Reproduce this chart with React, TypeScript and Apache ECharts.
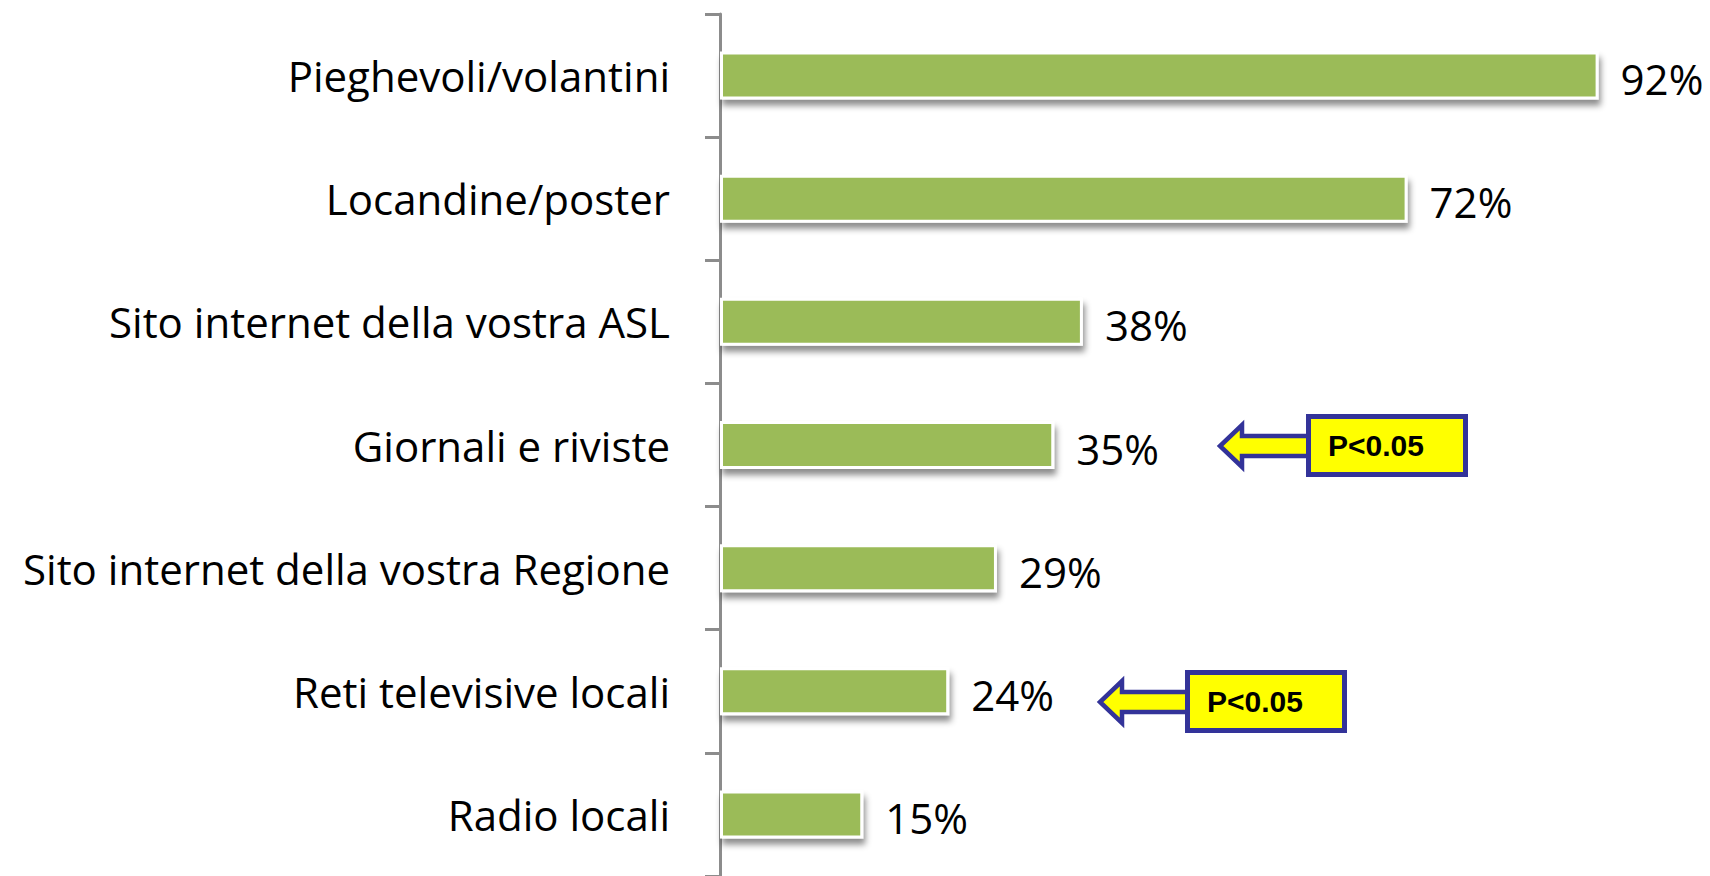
import React, { useEffect, useRef } from "react";
import * as echarts from "echarts";

const categories = [
  "Pieghevoli/volantini",
  "Locandine/poster",
  "Sito internet della vostra ASL",
  "Giornali e riviste",
  "Sito internet della vostra Regione",
  "Reti televisive locali",
  "Radio locali",
];
const values = [92, 72, 38, 35, 29, 24, 15];
const annotationText = "P<0.05";

const NAVY = "#333399";
const YELLOW = "#FFFF00";

function callout(tipX: number, tipY: number, boxLeft: number, boxCy: number) {
  const boxW = 162;
  const boxH = 63;
  const bw = 5;
  const headBase = tipX + 22;
  return [
    {
      type: "polygon",
      shape: {
        points: [
          [boxLeft + 4, tipY - 10],
          [headBase, tipY - 10],
          [headBase, tipY - 21],
          [tipX, tipY],
          [headBase, tipY + 21],
          [headBase, tipY + 10],
          [boxLeft + 4, tipY + 10],
        ],
      },
      style: { fill: YELLOW, stroke: NAVY, lineWidth: 4.5, lineJoin: "miter" },
      z: 100,
    },
    {
      type: "rect",
      shape: {
        x: boxLeft + bw / 2,
        y: boxCy - boxH / 2 + bw / 2,
        width: boxW - bw,
        height: boxH - bw,
      },
      style: { fill: YELLOW, stroke: NAVY, lineWidth: bw },
      z: 101,
    },
    {
      type: "text",
      x: boxLeft + 22,
      y: boxCy,
      style: {
        text: annotationText,
        fontFamily: "Liberation Sans, Arial, sans-serif",
        fontWeight: "bold",
        fontSize: 30,
        fill: "#000",
        verticalAlign: "middle",
        align: "left",
      },
      z: 102,
    },
  ];
}

export default function App() {
  const ref = useRef<HTMLDivElement>(null);
  useEffect(() => {
    document.body.style.margin = "0";
    const chart = echarts.init(ref.current!, null, { renderer: "svg" });
    chart.setOption({
      animation: false,
      backgroundColor: "#fff",
      grid: { left: 720, right: 35, top: 14, bottom: 0 },
      xAxis: { type: "value", min: 0, max: 100, show: false },
      yAxis: {
        type: "category",
        data: categories,
        inverse: true,
        axisLine: { show: true, lineStyle: { color: "#8c8c8c", width: 3 } },
        axisTick: { show: true, length: 15, lineStyle: { color: "#8c8c8c", width: 3 } },
        axisLabel: {
          fontFamily: "Open Sans",
          fontSize: 42,
          color: "#000",
          margin: 50,
        },
        splitLine: { show: false },
      },
      series: [
        {
          type: "bar",
          data: values,
          barWidth: 48,
          itemStyle: {
            color: "#9BBB59",
            borderColor: "#ffffff",
            borderWidth: 3,
            shadowColor: "rgba(0,0,0,0.45)",
            shadowBlur: 6,
            shadowOffsetX: 2,
            shadowOffsetY: 6,
          },
          label: {
            show: true,
            position: "right",
            distance: 22,
            formatter: "{c}%",
            fontFamily: "Open Sans",
            fontSize: 42,
            color: "#000",
            offset: [0, 3],
          },
        },
      ],
    });
    chart.setOption({
      graphic: [
        ...callout(1220, 446, 1306, 445.5),
        ...callout(1100, 702, 1185, 701.5),
      ],
    });
    return () => chart.dispose();
  }, []);
  return <div ref={ref} style={{ width: 1710, height: 876 }} />;
}
